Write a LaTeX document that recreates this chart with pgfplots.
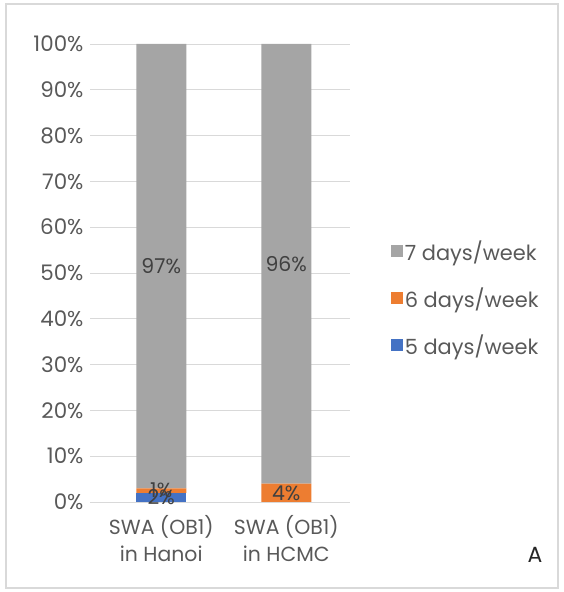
\documentclass[border=0pt]{standalone}
\usepackage{fontspec}
\setmainfont{Poppins}
\usepackage{pgfplots}
\pgfplotsset{compat=1.18}
\definecolor{c7}{HTML}{A5A5A5}
\definecolor{c6}{HTML}{ED7D31}
\definecolor{c5}{HTML}{4472C4}
\definecolor{txt}{HTML}{595959}
\definecolor{lab}{HTML}{404040}
\definecolor{gridc}{HTML}{D9D9D9}
\begin{document}
\begin{tikzpicture}
\path[use as bounding box] (0bp,0bp) rectangle (564bp,592bp);
\draw[gridc, line width=2bp] (6bp,4bp) rectangle (558bp,588bp);
\begin{axis}[
  at={(90bp,90bp)}, anchor=south west,
  scale only axis, width=260bp, height=458bp,
  ybar stacked, bar width=50bp,
  xmin=-0.57, xmax=1.51, ymin=0, ymax=100,
  axis line style={draw=none},
  tick style={draw=none},
  ymajorgrids, major grid style={gridc, line width=0.8bp},
  ytick={0,10,...,100},
  yticklabel={\pgfmathprintnumber{\tick}\%},
  /pgf/number format/assume math mode=true,
  xtick={0,1},
  xticklabels={{SWA (OB1)\\in Hanoi},{SWA (OB1)\\in HCMC}},
  xticklabel style={align=center, yshift=-10bp, font=\fontsize{20.5}{27}\selectfont},
  yticklabel style={xshift=-3bp, font=\fontsize{21.5}{26}\selectfont},
  tick label style={text=txt},
  legend style={at={(1.145,0.445)}, anchor=west, draw=none, fill=none,
    font=\fontsize{21}{25}\selectfont, text=txt, row sep=22bp},
  legend cell align=left,
  reverse legend,
  legend image code/.code={\fill[#1] (0bp,-6bp) rectangle (12bp,6bp);},
]
\addplot[fill=c5, draw=none] coordinates {(0,2) (1,0)};
\addplot[fill=c6, draw=none] coordinates {(0,1) (1,4)};
\addplot[fill=c7, draw=none] coordinates {(0,97) (1,96)};
\legend{5 days/week,6 days/week,7 days/week}
\coordinate (a97) at (axis cs:0,51.5);
\coordinate (a96) at (axis cs:1,52);
\coordinate (a1) at (axis cs:0,2.5);
\coordinate (a2) at (axis cs:0,1);
\coordinate (a4) at (axis cs:1,2);
\end{axis}
\begin{scope}[every node/.style={font=\fontsize{20.5}{24}\selectfont, text=lab}]
\node at (a97) {97\%};
\node at (a96) {96\%};
\node at (a1) {1\%};
\node at (a2) {2\%};
\node at (a4) {4\%};
\end{scope}
\node[font=\fontsize{22}{26}\selectfont, text=black!85] at (535bp,37bp) {A};
\end{tikzpicture}
\end{document}
